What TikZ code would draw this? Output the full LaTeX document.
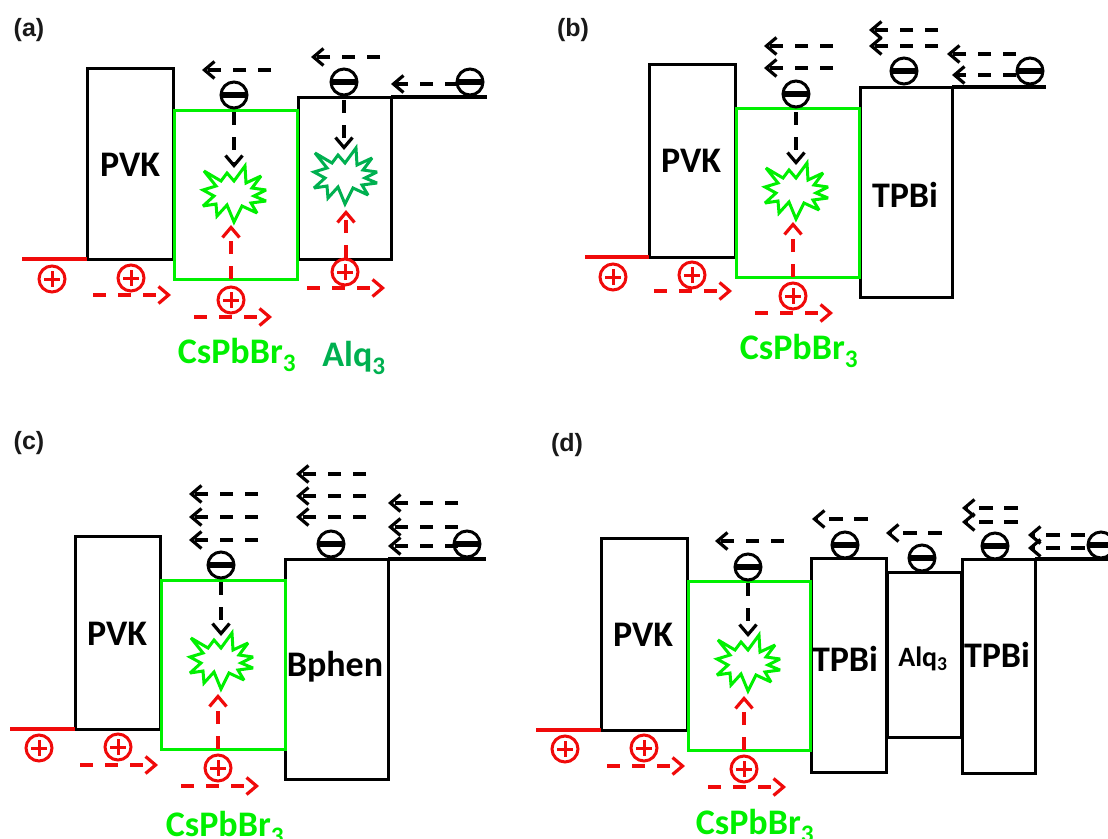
\documentclass[tikz,border=0pt]{standalone}
\usepackage{fontspec}
\setmainfont{Carlito}
\newfontfamily\panelfont{Liberation Sans}
\usetikzlibrary{arrows.meta}
\definecolor{lumgreen}{RGB}{0,240,0}
\definecolor{alqgreen}{RGB}{0,176,80}
\definecolor{holered}{RGB}{240,10,10}
\tikzset{
  x=1pt,y=-1pt,
  layerbox/.style={draw=#1,line width=3pt,inner sep=0pt,outer sep=0pt,line join=miter},
  level/.style={line width=3.6pt,draw=#1},
  carrier/.style={circle,draw=#1,line width=3pt,minimum size=26pt,inner sep=0pt,outer sep=0pt,fill=white},
  bar/.style={line width=5.5pt},
  flow/.style={draw=#1,line width=3.2pt,dash pattern=on 13pt off 12pt,-{Straight Barb[length=10pt,width=17pt,line width=3.2pt]}},
  flowshort/.style={draw=#1,line width=3.2pt,dash pattern=on 14pt off 11pt,-{Straight Barb[length=10pt,width=17pt,line width=3.2pt]}},
  title/.style={font=\bfseries\fontsize{36}{36}\selectfont,inner sep=0pt},
  smalltitle/.style={font=\bfseries\fontsize{28}{28}\selectfont,inner sep=0pt},
  paneltag/.style={font=\panelfont\bfseries\fontsize{25}{25}\selectfont,inner sep=0pt,text=black!90},
  burstline/.style={draw=#1,line width=3pt,line join=miter,miter limit=3},
}
% layer: name, x1, y1, x2, y2, colour
\newcommand{\layer}[6]{%
  \pgfmathsetmacro{\lw}{#4-#2}\pgfmathsetmacro{\lh}{#5-#3}%
  \pgfmathsetmacro{\lx}{(#4+#2)/2}\pgfmathsetmacro{\ly}{(#5+#3)/2}%
  \node[layerbox=#6,minimum width=\lw pt,minimum height=\lh pt] (#1) at (\lx,\ly) {};}
\newcommand{\elec}[3]{%
  \node[carrier=black] (#1) at (#2,#3) {};
  \draw[bar] (#1.west) -- (#1.east);}
\newcommand{\hole}[3]{%
  \node[carrier=holered] (#1) at (#2,#3) {};
  \draw[holered,line width=3pt] (#2-8,#3) -- (#2+8,#3) (#2,#3-8) -- (#2,#3+8);}
% arrow: name, colour, x tail, y tail, x head, y head
\newcommand{\flowarr}[6]{%
  \coordinate (#1t) at (#3,#4); \coordinate (#1h) at (#5,#6);
  \draw[flow=#2] (#1t) -- (#1h);}
\newcommand{\flowsh}[4]{%
  \coordinate (#1t) at (#2,#4); \coordinate (#1h) at (#3,#4);
  \draw[flowshort=black] (#1t) -- (#1h);}
% burst: name, colour, x, y
\newcommand{\burst}[4]{%
  \coordinate (#1) at (#3,#4);
  \draw[burstline=#2,shift={(#3,#4)}]
   (-30,-22)--(-13,-12)--(-7,-20)--(0,-12)--(11,-27)--(12,-10)--(27,-17)--(18,-5)--(32,-3)
   --(20,3)--(32,8)--(17,10)--(23,20)--(8,13)--(0,29)--(-7,12)--(-17,23)--(-18,11)--(-31,13)
   --(-20,3)--(-31,-3)--(-18,-7)--cycle;}
\begin{document}
\begin{tikzpicture}
\useasboundingbox (0,0) rectangle (1108,838);
\clip (0,0) rectangle (1108,838);

% ---------- panel a ----------
\node[paneltag] (taga) at (29,30) {(a)};
\layer{apvk}{87}{68}{173}{259}{black}
\layer{aalq}{298}{97}{391}{259}{black}
\layer{acs}{174}{110}{297}{279}{lumgreen}
\coordinate (ared) at (22,259); \coordinate (ablk) at (487,97);
\draw[level=holered] (ared) -- (apvk.south west);
\draw[level=black] (aalq.north east) -- (ablk);
\node[title] (apvkl) at (130,165) {PVK};
\node[title,text=lumgreen] (acsl) at (237,355) {CsPbBr\textsubscript{3}};
\node[title,text=alqgreen] (aalql) at (354,358) {Alq\textsubscript{3}};
\burst{ab1}{lumgreen}{234}{193}
\burst{ab2}{alqgreen}{345}{175}
\elec{ae1}{234}{95}\elec{ae2}{344}{82}\elec{ae3}{470}{82}
\hole{ah1}{52}{279}\hole{ah2}{131}{278}\hole{ah3}{231}{300}\hole{ah4}{345}{272}
\flowarr{aa1}{black}{271}{70}{202}{70}
\flowarr{aa2}{black}{380}{57}{311}{57}
\flowarr{aa3}{black}{458}{84}{391}{84}
\flowarr{aa4}{black}{234}{112}{234}{168}
\flowarr{aa5}{black}{344}{100}{344}{150}
\flowarr{aa6}{holered}{231}{279}{231}{225}
\flowarr{aa7}{holered}{346}{258}{346}{210}
\flowarr{aa8}{holered}{93}{295}{171}{295}
\flowarr{aa9}{holered}{194}{317}{272}{317}
\flowarr{aa10}{holered}{307}{288}{385}{288}

% ---------- panel b ----------
\node[paneltag] (tagb) at (573,30) {(b)};
\layer{bpvk}{649}{64}{735}{257}{black}
\layer{btpb}{860}{87}{952}{297}{black}
\layer{bcs}{736}{108}{859}{277}{lumgreen}
\coordinate (bred) at (585,257); \coordinate (bblk) at (1046,87);
\draw[level=holered] (bred) -- (bpvk.south west);
\draw[level=black] (btpb.north east) -- (bblk);
\node[title] (bpvkl) at (691,161) {PVK};
\node[title] (btpbl) at (905,195) {TPBi};
\node[title,text=lumgreen] (bcsl) at (799,351) {CsPbBr\textsubscript{3}};
\burst{bb1}{lumgreen}{796}{190}
\elec{be1}{796}{94}\elec{be2}{904}{71}\elec{be3}{1030}{71}
\hole{bh1}{613}{277}\hole{bh2}{692}{275}\hole{bh3}{793}{296}
\flowarr{ba1}{black}{833}{46}{764}{46}
\flowarr{ba2}{black}{833}{68}{764}{68}
\flowarr{ba3}{black}{938}{30}{869}{30}
\flowarr{ba4}{black}{938}{46}{869}{46}
\flowarr{ba5}{black}{1016}{54}{947}{54}
\flowarr{ba6}{black}{1016}{75}{952}{75}
\flowarr{ba7}{black}{796}{112}{796}{165}
\flowarr{ba8}{holered}{793}{277}{793}{222}
\flowarr{ba9}{holered}{654}{291}{732}{291}
\flowarr{ba10}{holered}{755}{313}{833}{313}

% ---------- panel c ----------
\node[paneltag] (tagc) at (29,443) {(c)};
\layer{cpvk}{75}{536}{160}{729}{black}
\layer{cbph}{285}{559}{388}{779}{black}
\layer{ccs}{161}{580}{285}{749}{lumgreen}
\coordinate (cred) at (10,729); \coordinate (cblk) at (486,559);
\draw[level=holered] (cred) -- (cpvk.south west);
\draw[level=black] (cbph.north east) -- (cblk);
\node[title] (cpvkl) at (117,634) {PVK};
\node[title] (cbphl) at (335,667) {Bphen};
\node[title,text=lumgreen] (ccsl) at (225,828) {CsPbBr\textsubscript{3}};
\burst{cb1}{lumgreen}{221}{660}
\elec{ce1}{221}{565}\elec{ce2}{331}{544}\elec{ce3}{467}{544}
\hole{ch1}{39}{748}\hole{ch2}{118}{747}\hole{ch3}{218}{768}
\flowarr{ca1}{black}{258}{494}{189}{494}
\flowarr{ca2}{black}{258}{517}{189}{517}
\flowarr{ca3}{black}{258}{540}{189}{540}
\flowarr{ca4}{black}{366}{474}{296}{474}
\flowarr{ca5}{black}{366}{496}{296}{496}
\flowarr{ca6}{black}{366}{517}{296}{517}
\flowarr{ca7}{black}{458}{503}{388}{503}
\flowarr{ca8}{black}{458}{527}{388}{527}
\flowarr{ca9}{black}{458}{546}{388}{546}
\flowarr{ca10}{black}{221}{582}{221}{636}
\flowarr{ca11}{holered}{218}{749}{218}{694}
\flowarr{ca12}{holered}{80}{765}{158}{765}
\flowarr{ca13}{holered}{181}{786}{259}{786}

% ---------- panel d ----------
\node[paneltag] (tagd) at (567,445) {(d)};
\layer{dpvk}{601}{538}{687}{730}{black}
\layer{dtp1}{811}{558}{886}{772}{black}
\layer{dalq}{887}{572}{961}{737}{black}
\layer{dtp2}{962}{559}{1035}{773}{black}
\layer{dcs}{688}{581}{810}{750}{lumgreen}
\coordinate (dred) at (536,730); \coordinate (dblk) at (1108,559);
\draw[level=holered] (dred) -- (dpvk.south west);
\draw[level=black] (dtp2.north east) -- (dblk);
\node[title] (dpvkl) at (643,635) {PVK};
\node[title] (dtp1l) at (845,659) {TPBi};
\node[smalltitle] (dalql) at (923,659) {Alq\textsubscript{3}};
\node[title] (dtp2l) at (997,655) {TPBi};
\node[title,text=lumgreen] (dcsl) at (755,826) {CsPbBr\textsubscript{3}};
\burst{db1}{lumgreen}{748}{662}
\elec{de1}{748}{567}\elec{de2}{845}{545}\elec{de3}{922}{558}\elec{de4}{995}{546}\elec{de5}{1101}{545}
\hole{dh1}{565}{749}\hole{dh2}{644}{748}\hole{dh3}{744}{769}
\flowarr{da1}{black}{784}{541}{715}{541}
\flowsh{da2}{868}{812}{519}
\flowsh{da3}{942}{886}{533}
\flowsh{da4}{1018}{962}{508}
\flowsh{da5}{1018}{962}{522}
\flowsh{da6}{1085}{1028}{535}
\flowsh{da7}{1085}{1028}{548}
\flowarr{da8}{black}{748}{583}{748}{637}
\flowarr{da9}{holered}{744}{750}{744}{696}
\flowarr{da10}{holered}{607}{766}{685}{766}
\flowarr{da11}{holered}{708}{787}{786}{787}
\end{tikzpicture}
\end{document}
